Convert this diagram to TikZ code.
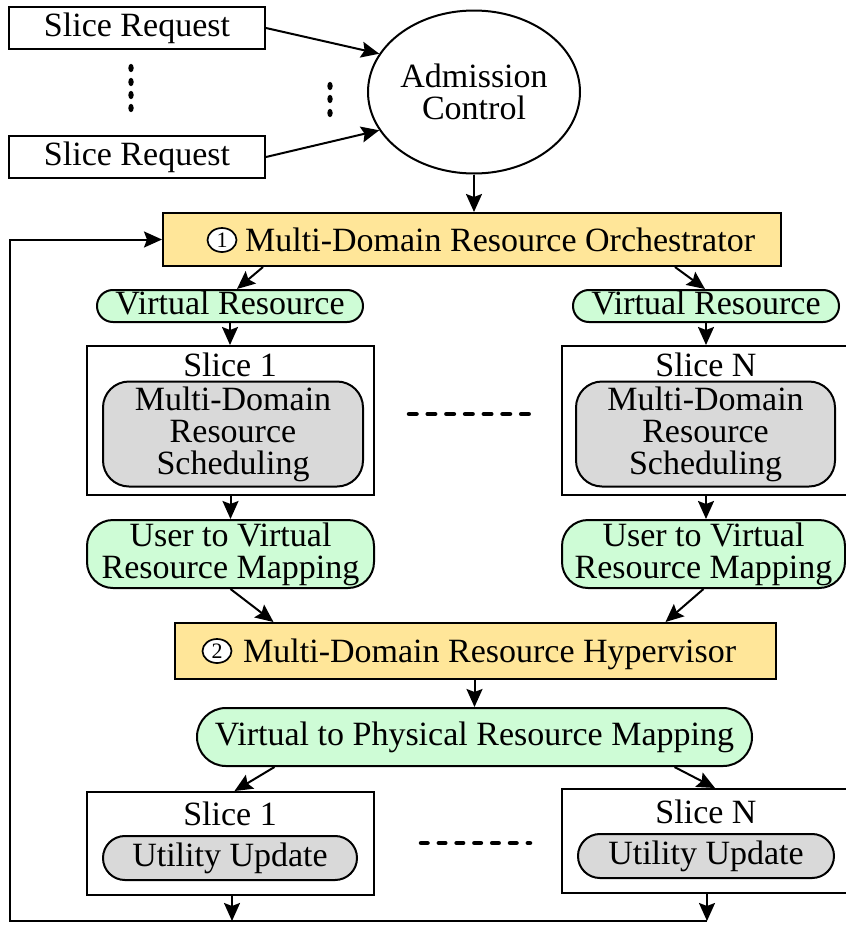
\documentclass[tikz,border=0pt]{standalone}
\usepackage{fontspec}
\setmainfont{Liberation Serif}
\usetikzlibrary{arrows.meta,shapes.geometric,calc}
\definecolor{orchfill}{RGB}{255,230,153}
\definecolor{mapfill}{RGB}{206,252,214}
\definecolor{schedfill}{RGB}{217,217,217}
\tikzset{
  txt/.style={font=\fontsize{34}{32}\selectfont, inner sep=0pt},
  oneline/.style={text height=23pt, text depth=7pt},
  outline/.style={draw, line width=2pt},
  reqbox/.style={txt, oneline, outline, minimum width=256pt, minimum height=42pt},
  admnode/.style={txt, outline, ellipse, align=center, minimum width=212pt, minimum height=163pt},
  mainbox/.style={outline, fill=orchfill},
  numc/.style={ellipse, draw, fill=white, line width=1.7pt, minimum width=29pt, minimum height=24pt,
               inner sep=0pt, font=\fontsize{22}{22}\selectfont},
  vrpill/.style={txt, oneline, outline, fill=mapfill, rounded corners=15.9pt,
                 minimum width=266pt, minimum height=32pt},
  mappill/.style={txt, outline, fill=mapfill, align=center, rounded corners=26pt},
  slicebox/.style={outline, fill=white},
  slicetitle/.style={txt, oneline},
  schedbox/.style={txt, outline, fill=schedfill, align=center, rounded corners=26pt,
                   minimum width=260pt, minimum height=105pt},
  utilpill/.style={txt, oneline, outline, fill=schedfill, rounded corners=21.9pt,
                   minimum width=254pt, minimum height=44pt},
  arr/.style={line width=2pt, -{Stealth[length=18pt, width=16pt, inset=3pt]}},
  ellipsis/.style={line width=4.5pt, line cap=round},
}
\begin{document}
\begin{tikzpicture}[x=1pt, y=-1pt]
  \useasboundingbox (0,0) rectangle (846,927);
  \clip (0,0) rectangle (846,927);

  % incoming requests and admission control
  \node[reqbox] (req1) at (137,28) {Slice Request};
  \node[reqbox] (req2) at (137,157) {Slice Request};
  \node[admnode] (adm) at (474,92) {Admission\\Control};
  \foreach \yy in {68,82,95,108} \fill (131,\yy) ellipse (2.7 and 4.2);
  \foreach \yy in {86,99,113} \fill (330,\yy) ellipse (2.7 and 4.2);
  \draw[arr] (req1.east) -- (adm.158);
  \draw[arr] (req2.east) -- (adm.202);

  % orchestrator
  \node[mainbox, minimum width=618pt, minimum height=53pt] (orch) at (472,239.5) {};
  \node[numc] (orch-n) at (222,240) {1};
  \node[txt, anchor=base west] (orch-t) at (245,251) {Multi-Domain Resource Orchestrator};
  \draw[arr] (adm.south) -- (adm.south |- orch.north);

  % virtual resources
  \node[vrpill] (vr1) at (230,306) {Virtual Resource};
  \node[vrpill] (vrN) at (706,306) {Virtual Resource};
  \draw[arr] ($(orch.south)+(-209,0)$) -- ($(vr1.north)+(7,0)$);
  \draw[arr] ($(orch.south)+(203,0)$) -- ($(vrN.north)+(-1,0)$);

  % per-slice scheduling
  \node[slicebox, minimum width=287pt, minimum height=149pt] (sl1) at (230.5,420.5) {};
  \node[slicetitle] (sl1-t) at (230,368) {Slice 1};
  \node[schedbox] (sch1) at (233,434) {Multi-Domain\\Resource\\Scheduling};
  \node[slicebox, minimum width=288pt, minimum height=149pt] (slN) at (706,420.5) {};
  \node[slicetitle] (slN-t) at (706,368) {Slice N};
  \node[schedbox, minimum width=259pt] (schN) at (705.5,434) {Multi-Domain\\Resource\\Scheduling};
  \coordinate (dotsA1) at (409,414);
  \coordinate (dotsA2) at (530,414);
  \draw[ellipsis, dash pattern=on 7.5pt off 11.2pt] (dotsA1) -- (dotsA2);
  \draw[arr] (vr1.south) -- (vr1.south |- sl1.north);
  \draw[arr] (vrN.south) -- (vrN.south |- slN.north);

  % user to virtual mapping
  \node[mappill, minimum width=287pt, minimum height=68pt] (uv1) at (230.5,554) {User to Virtual\\Resource Mapping};
  \node[mappill, minimum width=283pt, minimum height=68pt] (uvN) at (703.5,554) {User to Virtual\\Resource Mapping};
  \draw[arr] (sl1.south) -- (sl1.south |- uv1.north);
  \draw[arr] (slN.south -| vrN.south) -- (vrN.south |- uvN.north);

  % hypervisor
  \node[mainbox, minimum width=601pt, minimum height=56pt] (hyp) at (475.5,651) {};
  \node[numc] (hyp-n) at (217,651) {2};
  \node[txt, anchor=base west] (hyp-t) at (243,662) {Multi-Domain Resource Hypervisor};
  \draw[arr] (uv1.south) -- ($(hyp.north)+(-202,0)$);
  \draw[arr] (uvN.south) -- ($(hyp.north)+(190,0)$);

  % virtual to physical mapping
  \node[mappill, rounded corners=28.9pt, minimum width=555pt, minimum height=58pt] (vp) at (474.5,737) {Virtual to Physical Resource Mapping};
  \draw[arr] (hyp.south -| vp.north) -- (vp.north);

  % per-slice utility update
  \node[slicebox, minimum width=287pt, minimum height=103pt] (ut1) at (230.5,843.5) {};
  \node[slicetitle] (ut1-t) at (230,817) {Slice 1};
  \node[utilpill] (uu1) at (230,858) {Utility Update};
  \node[slicebox, minimum width=288pt, minimum height=104pt] (utN) at (706,841) {};
  \node[slicetitle] (utN-t) at (706,815) {Slice N};
  \node[utilpill, minimum width=256pt] (uuN) at (706,856) {Utility Update};
  \coordinate (dotsB1) at (421,843);
  \coordinate (dotsB2) at (530,843);
  \draw[ellipsis, dash pattern=on 6.5pt off 11.3pt] (dotsB1) -- (dotsB2);
  \draw[arr] ($(vp.south)+(-200,0)$) -- ($(ut1.north)+(4,0)$);
  \draw[arr] ($(vp.south)+(200,0)$) -- ($(utN.north)+(9,0)$);

  % feedback loop back to the orchestrator
  \coordinate (loopL) at (10,921);
  \coordinate (loopR) at (707,921);
  \coordinate (out1) at (232,895);
  \coordinate (in1) at (232,921);
  \draw[arr] (loopR) -- (loopL) |- (orch.west);
  \draw[arr] (out1) -- (in1);
  \draw[arr] (utN.south -| loopR) -- (loopR);
\end{tikzpicture}
\end{document}
